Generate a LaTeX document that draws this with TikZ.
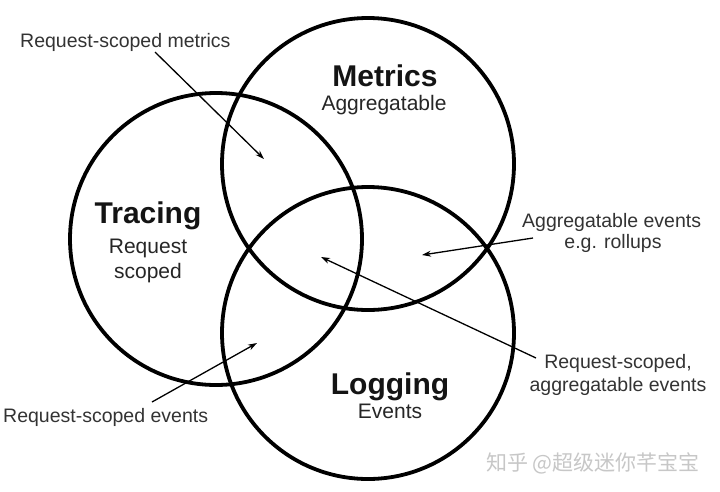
\documentclass[tikz,border=0pt]{standalone}
\usepackage{fontspec}
\setmainfont{Liberation Sans}
\newfontfamily\cjk{Noto Sans CJK SC}
\usetikzlibrary{arrows.meta}
\begin{document}
\begin{tikzpicture}[x=1pt,y=-1pt,
  ring/.style={circle,draw=black,line width=3.8pt,inner sep=0pt,minimum size=292pt},
  title/.style={anchor=base,inner sep=0pt,font=\fontsize{30}{34}\selectfont\bfseries,text=black!92},
  sub/.style={anchor=base,inner sep=0pt,font=\fontsize{21}{25}\selectfont,text=black!85,align=center},
  lbl/.style={inner sep=0pt,font=\fontsize{19.5}{22}\selectfont,text=black!80},
  arr/.style={line width=1.3pt,-{Stealth[length=9pt,width=6pt]}}]
\useasboundingbox (0,0) rectangle (720,491);
\fill[white] (0,0) rectangle (720,491);
% circles
\node[ring] (metricsC) at (368,164) {};
\node[ring] (tracingC) at (216,239) {};
\node[ring] (loggingC) at (368,333) {};
% titles
\node[title] (metricsT) at (385,86) {Metrics};
\node[sub] (metricsS) at (384,110) {Aggregatable};
\node[title] (tracingT) at (148,223) {Tracing};
\node[sub] (tracingS1) at (148,253) {Request};
\node[sub] (tracingS2) at (148,278) {scoped};
\node[title] (loggingT) at (390,394) {Logging};
\node[sub] (loggingS) at (390,418) {Events};
% labels
\node[lbl,anchor=base west] (l1) at (20,47) {Request-scoped metrics};
\node[lbl,anchor=base west] (l2a) at (522,227) {Aggregatable events};
\node[lbl,anchor=base] (l2b) at (613,248) {e.g. rollups};
\node[lbl,anchor=base] (l3a) at (618,368) {Request-scoped,};
\node[lbl,anchor=base] (l3b) at (618,391) {aggregatable events};
\node[lbl,anchor=base west] (l4) at (3,422) {Request-scoped events};
% arrow endpoints
\coordinate (s1) at (155,52);
\coordinate (t1) at (264,159);
\coordinate (s2) at (533,238);
\coordinate (t2) at (422,255);
\coordinate (s3) at (536,358);
\coordinate (t3) at (321,257);
\coordinate (s4) at (152,402);
\coordinate (t4) at (257,343);
\draw[arr] (s1) -- (t1);
\draw[arr] (s2) -- (t2);
\draw[arr] (s3) -- (t3);
\draw[arr] (s4) -- (t4);
% watermark
\node[anchor=base,inner sep=0pt,text=black!22,font=\cjk\fontsize{21}{24}\selectfont] (wm) at (593,470) {知乎 @超级迷你芊宝宝};
\end{tikzpicture}
\end{document}
